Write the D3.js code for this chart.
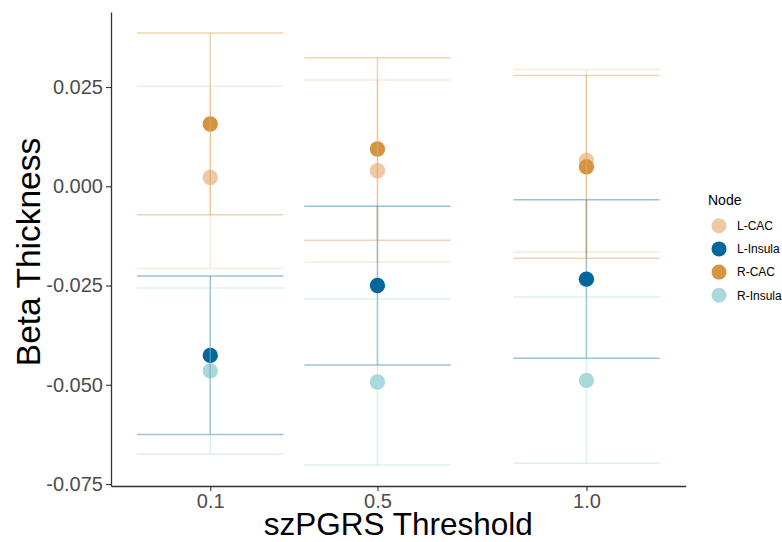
<!DOCTYPE html>
<html>
<head>
<meta charset="utf-8">
<script src="https://cdn.jsdelivr.net/npm/d3@7/dist/d3.min.js"></script>
<style>
  html, body { margin: 0; padding: 0; background: #fff; }
  svg { display: block; font-family: "Liberation Sans", Arial, Helvetica, sans-serif; }
</style>
</head>
<body>
<svg id="chart" width="782" height="542"></svg>
<script>
// ---- Data ----
const thresholds = [0.1, 0.5, 1.0];
const xTickLabels = ["0.1", "0.5", "1.0"];
const yTicks = [0.025, 0.000, -0.025, -0.050, -0.075];
const nodes = ["L-CAC", "L-Insula", "R-CAC", "R-Insula"];
const nodeColors = ["#EFC8A4", "#03679B", "#D5953F", "#A9D9DB"];

const betaLCAC     = [0.0022, 0.0039, 0.0066];
const betaLInsula  = [-0.0426, -0.0250, -0.0234];
const betaRCAC     = [0.0157, 0.0094, 0.0049];
const betaRInsula  = [-0.0465, -0.0493, -0.0489];

const lowerLCAC    = [-0.0207, -0.0191, -0.0166];
const upperLCAC    = [0.0252, 0.0268, 0.0294];
const lowerLInsula = [-0.0625, -0.0450, -0.0433];
const upperLInsula = [-0.0226, -0.0050, -0.0034];
const lowerRCAC    = [-0.0072, -0.0136, -0.0181];
const upperRCAC    = [0.0386, 0.0324, 0.0279];
const lowerRInsula = [-0.0675, -0.0702, -0.0698];
const upperRInsula = [-0.0256, -0.0284, -0.0279];

const betas  = [betaLCAC, betaLInsula, betaRCAC, betaRInsula];
const lowers = [lowerLCAC, lowerLInsula, lowerRCAC, lowerRInsula];
const uppers = [upperLCAC, upperLInsula, upperRCAC, upperRInsula];

const rows = [];
nodes.forEach((n, i) => thresholds.forEach((t, j) => {
  rows.push({node: n, idx: i, t: t, beta: betas[i][j], lo: lowers[i][j], hi: uppers[i][j]});
}));

// ---- Layout ----
const svg = d3.select("#chart");
const pLeft = 111, pRight = 685.7, pTop = 12, pBottom = 486;
const ebWidth = 0.35;

const x = d3.scaleLinear().domain([-0.1375, 1.2375]).range([pLeft, pRight]);
const y = d3.scaleLinear().domain([-0.0755, 0.0439]).range([pBottom, pTop]);
const color = d3.scaleOrdinal().domain(nodes).range(nodeColors);

// points
svg.append("g").selectAll("circle").data(rows).join("circle")
  .attr("cx", d => x(d.t)).attr("cy", d => y(d.beta)).attr("r", 7.7)
  .attr("fill", d => color(d.node));

// error bars
const eb = svg.append("g").selectAll("g").data(rows).join("g")
  .attr("stroke", d => color(d.node)).attr("stroke-opacity", 0.4).attr("stroke-width", 1.5).attr("fill", "none");
eb.append("line").attr("x1", d => x(d.t)).attr("x2", d => x(d.t))
  .attr("y1", d => y(d.lo)).attr("y2", d => y(d.hi));
eb.append("line").attr("x1", d => x(d.t - ebWidth / 2)).attr("x2", d => x(d.t + ebWidth / 2))
  .attr("y1", d => y(d.hi)).attr("y2", d => y(d.hi));
eb.append("line").attr("x1", d => x(d.t - ebWidth / 2)).attr("x2", d => x(d.t + ebWidth / 2))
  .attr("y1", d => y(d.lo)).attr("y2", d => y(d.lo));

// axes
const yAxis = d3.axisLeft(y).tickValues(yTicks).tickFormat(d3.format(".3f")).tickSize(5).tickSizeOuter(0).tickPadding(3);
const xAxis = d3.axisBottom(x).tickValues(thresholds).tickFormat((d, i) => xTickLabels[i]).tickSize(5).tickSizeOuter(0).tickPadding(3);

const gy = svg.append("g").attr("transform", `translate(${pLeft},0)`).call(yAxis);
const gx = svg.append("g").attr("transform", `translate(0,${pBottom})`).call(xAxis);
[gx, gy].forEach(g => {
  g.select(".domain").attr("stroke", "#333").attr("stroke-width", 1.3);
  g.selectAll(".tick line").attr("stroke", "#333").attr("stroke-width", 1.1);
  g.selectAll(".tick text").attr("fill", "#4D4D4D").attr("font-size", 20)
    .attr("font-family", "Liberation Sans, Arial, sans-serif");
});
gy.selectAll(".tick text").text(d => d3.format(".3f")(d).replace("\u2212", "-"));

// axis titles
svg.append("text").attr("x", (pLeft + pRight) / 2).attr("y", 535).attr("text-anchor", "middle")
  .attr("font-size", 31.5).attr("fill", "#000").text("szPGRS Threshold");
svg.append("text").attr("transform", `translate(40,${(pTop + pBottom) / 2 + 3}) rotate(-90)`)
  .attr("text-anchor", "middle").attr("font-size", 33.5).attr("fill", "#000").text("Beta Thickness");

// legend
const lg = svg.append("g").attr("transform", "translate(708,0)");
lg.append("text").attr("x", 0).attr("y", 205).attr("font-size", 14).attr("fill", "#000").text("Node");
const items = lg.selectAll("g.item").data(nodes).join("g").attr("class", "item")
  .attr("transform", (d, i) => `translate(0,${225.7 + i * 23.2})`);
items.append("circle").attr("cx", 11).attr("cy", 0).attr("r", 7.5).attr("fill", d => color(d));
items.append("text").attr("x", 29).attr("y", 4.3).attr("font-size", 12).attr("fill", "#000").text(d => d);
</script>
</body>
</html>
